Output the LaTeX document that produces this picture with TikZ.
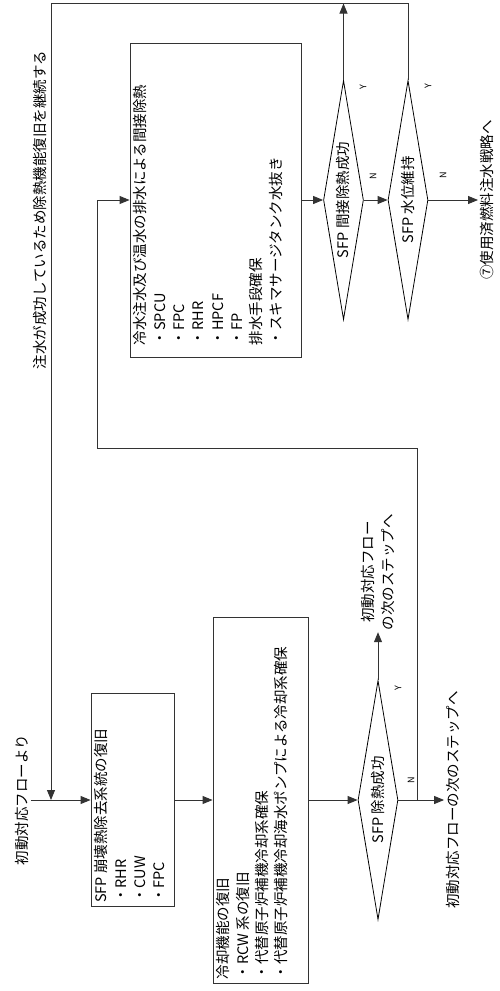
\documentclass[tikz,border=0pt]{standalone}
\usepackage{graphicx}
\usepackage{fontspec}
\setmainfont{Noto Sans CJK JP}
\usetikzlibrary{shapes.geometric,arrows.meta}

\begin{document}
\begin{tikzpicture}[x=1pt,y=-1pt,font=\fontsize{14.5}{19.3}\selectfont,
  line/.style={draw=black!80,line width=0.9pt},
  flow/.style={line,-{Triangle[length=10pt,width=8pt]}},
  box/.style={line,rectangle,inner sep=0pt},
  txt/.style={rotate=90,inner sep=0pt,align=left},
  lbl/.style={rotate=90,inner sep=2pt,align=center},
  dec/.style={diamond,draw,line width=0.8pt,aspect=0.17,minimum width=40pt,minimum height=239pt,inner sep=0pt},
  yn/.style={rotate=90,inner sep=0pt,font=\fontsize{9}{10}\selectfont}]
\useasboundingbox (0,0) rectangle (499,991);

\node[lbl] (start) at (22,800) {初動対応フローより};
\node[box,minimum width=83pt,minimum height=213pt] (box1) at (132.5,800) {};
\node[txt,anchor=north west] (box1txt) at ([xshift=4pt,yshift=4pt]box1.south west) {SFP 崩壊熱除去系統の復旧\\・RHR\\・CUW\\・FPC};
\node[box,minimum width=95pt,minimum height=366pt] (box2) at (260.5,800) {};
\node[txt,anchor=north west] (box2txt) at ([xshift=4pt,yshift=4pt]box2.south west) {冷却機能の復旧\\・RCW 系の復旧\\・代替原子炉補機冷却系確保\\・代替原子炉補機冷却海水ポンプによる冷却系確保};
\node[dec] (d1) at (378,800) {\rotatebox{90}{SFP 除熱成功}};
\node[lbl] (next1) at (378,572) {初動対応フロー\\の次のステップへ};
\node[lbl] (next2) at (453,800) {初動対応フローの次のステップへ};

\node[box,minimum width=171pt,minimum height=314pt] (box3) at (215.5,200) {};
\node[txt,anchor=north west] (box3txt) at ([xshift=4pt,yshift=12pt]box3.south west) {冷水注水及び温水の排水による間接除熱\\・SPCU\\・FPC\\・RHR\\・HPCF\\・FP\\排水手段確保\\・スキマサージタンク水抜き};
\node[dec] (d2) at (343.5,200) {\rotatebox{90}{SFP 間接除熱成功}};
\node[dec] (d3) at (408,200) {\rotatebox{90}{SFP 水位維持}};
\node[lbl] (strat) at (487,200) {⑦使用済燃料注水戦略へ};
\node[lbl] (keep) at (40,210) {注水が成功しているため除熱機能復旧を継続する};

\node[yn] (y1) at (398,688) {Y};
\node[yn] (n1) at (411,780) {N};
\node[yn] (y2) at (363,87) {Y};
\node[yn] (n2) at (373,176) {N};
\node[yn] (y3) at (428,86) {Y};
\node[yn] (n3) at (443,175) {N};

\coordinate (split) at (417.5,800);
\coordinate (loopc) at (97,448);
\coordinate (top) at (51,3.5);
\coordinate (merge) at (51,800);

\draw[flow] (start) -- (box1);
\draw[flow] (box1) -- (box2);
\draw[flow] (box2) -- (d1);
\draw[flow] (d1) -- (next1);
\draw[flow] (d1) -- (next2);
\draw[flow] (split) |- (loopc) |- (box3.west);
\draw[flow] (box3) -- (d2);
\draw[flow] (d2) -- (d3);
\draw[flow] (d3) -- (strat);
\draw[flow] (d2.north) -- (d2.north |- top);
\draw[flow] (d3.north) |- (top) -- (merge);
\end{tikzpicture}
\end{document}
